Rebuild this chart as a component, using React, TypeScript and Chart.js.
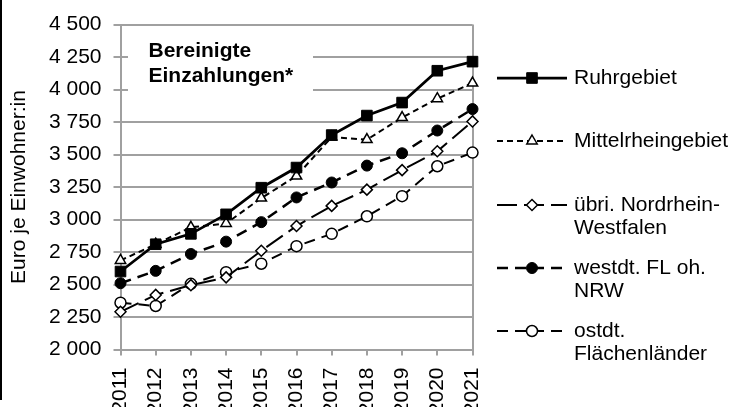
import React, { useEffect, useRef } from 'react';
import { Chart, registerables } from 'chart.js';

Chart.register(...registerables);

// ---------- data ----------
const years = ['2011', '2012', '2013', '2014', '2015', '2016', '2017', '2018', '2019', '2020', '2021'];
const ruhrgebiet = [2600, 2810, 2890, 3040, 3245, 3400, 3650, 3800, 3900, 4145, 4215];
const mittelrheingebiet = [2685, 2810, 2940, 2970, 3165, 3335, 3635, 3615, 3785, 3930, 4050];
const uebrigesNRW = [2290, 2420, 2495, 2555, 2760, 2950, 3105, 3230, 3380, 3525, 3755];
const westdtFL = [2510, 2605, 2735, 2830, 2980, 3170, 3285, 3415, 3510, 3685, 3850];
const ostdtFL = [2360, 2335, 2505, 2595, 2660, 2795, 2890, 3025, 3180, 3410, 3515];

const seriesLabels = ['Ruhrgebiet', 'Mittelrheingebiet', 'übri. Nordrhein-Westfalen', 'westdt. FL oh. NRW', 'ostdt. Flächenländer'];
const legendLines = [
  ['Ruhrgebiet'],
  ['Mittelrheingebiet'],
  ['übri. Nordrhein-', 'Westfalen'],
  ['westdt. FL oh.', 'NRW'],
  ['ostdt.', 'Flächenländer'],
];
const titleLines = ['Bereinigte', 'Einzahlungen*'];
const yAxisTitle = 'Euro je Einwohner:in';
const yMin = 2000;
const yMax = 4500;
const yStep = 250;

// ---------- styling ----------
const FONT = "'Liberation Sans', Arial, sans-serif";
const GRID = '#a0a0a0';
const W = 732;
const H = 420;

function drawMarker(ctx: CanvasRenderingContext2D, style: string, x: number, y: number, r: number, fill: string, stroke: string, bw: number) {
  ctx.save();
  ctx.setLineDash([]);
  ctx.beginPath();
  if (style === 'rect') {
    const s = r * Math.SQRT2;
    ctx.rect(x - s / 2, y - s / 2, s, s);
  } else if (style === 'triangle') {
    ctx.moveTo(x, y - r);
    ctx.lineTo(x + 0.866 * r, y + 0.5 * r);
    ctx.lineTo(x - 0.866 * r, y + 0.5 * r);
    ctx.closePath();
  } else if (style === 'rectRot') {
    ctx.moveTo(x, y - r);
    ctx.lineTo(x + r, y);
    ctx.lineTo(x, y + r);
    ctx.lineTo(x - r, y);
    ctx.closePath();
  } else {
    ctx.arc(x, y, r, 0, Math.PI * 2);
  }
  ctx.fillStyle = fill;
  ctx.fill();
  ctx.lineWidth = bw;
  ctx.strokeStyle = stroke;
  ctx.stroke();
  ctx.restore();
}

const overlayPlugin = {
  id: 'overlay',
  beforeDatasetsDraw(chart: any) {
    const ctx: CanvasRenderingContext2D = chart.ctx;
    const a = chart.chartArea;
    ctx.save();
    ctx.fillStyle = '#ffffff';
    ctx.fillRect(a.left + 7.5, 31, 185, 72);
    ctx.fillStyle = '#000';
    ctx.font = `bold 21px ${FONT}`;
    ctx.textBaseline = 'alphabetic';
    ctx.textAlign = 'left';
    ctx.fillText(titleLines[0], a.left + 28, 57);
    ctx.fillText(titleLines[1], a.left + 28, 82);
    ctx.restore();
  },
  afterDraw(chart: any) {
    const ctx: CanvasRenderingContext2D = chart.ctx;
    const x0 = 497;
    const x1 = 567;
    const xm = 532;
    const tx = 574;
    const ys = [78, 141, 205, 268, 331];
    chart.data.datasets.forEach((ds: any, i: number) => {
      const y = ys[i];
      ctx.save();
      ctx.strokeStyle = '#000';
      ctx.lineWidth = ds.borderWidth;
      ctx.setLineDash(ds.borderDash || []);
      ctx.beginPath();
      ctx.moveTo(x0, y);
      ctx.lineTo(x1, y);
      ctx.stroke();
      ctx.restore();
      drawMarker(ctx, ds.pointStyle, xm, y, ds.pointRadius, ds.pointBackgroundColor, '#000', ds.pointBorderWidth);
      ctx.save();
      ctx.fillStyle = '#000';
      ctx.font = `21px ${FONT}`;
      ctx.textBaseline = 'middle';
      ctx.textAlign = 'left';
      legendLines[i].forEach((line, k) => ctx.fillText(line, tx, y + k * 23.5));
      ctx.restore();
    });
  },
};

function makeDataset(label: string, data: number[], dash: number[], width: number, style: string, radius: number, fill: string, bw: number) {
  return {
    label,
    data,
    borderColor: '#000',
    borderWidth: width,
    borderDash: dash,
    pointStyle: style,
    pointRadius: radius,
    pointHoverRadius: radius,
    pointBackgroundColor: fill,
    pointBorderColor: '#000',
    pointBorderWidth: bw,
    tension: 0,
    fill: false,
  };
}

export default function App() {
  const canvasRef = useRef<HTMLCanvasElement | null>(null);

  useEffect(() => {
    if (!canvasRef.current) return;
    const chart = new Chart(canvasRef.current, {
      type: 'line',
      data: {
        labels: years,
        datasets: [
          makeDataset(seriesLabels[0], ruhrgebiet, [], 2.75, 'rect', 7.5, '#000', 1),
          makeDataset(seriesLabels[1], mittelrheingebiet, [6, 4], 2, 'triangle', 6, '#fff', 1.5),
          makeDataset(seriesLabels[2], uebrigesNRW, [20, 7], 2, 'rectRot', 5.5, '#fff', 1.5),
          makeDataset(seriesLabels[3], westdtFL, [11, 7], 2.5, 'circle', 5.5, '#000', 1),
          makeDataset(seriesLabels[4], ostdtFL, [11, 7], 2, 'circle', 5.5, '#fff', 1.5),
        ],
      },
      options: {
        responsive: false,
        animation: false,
        devicePixelRatio: 1,
        layout: { padding: { top: 22, right: 259.5, bottom: 0, left: 0 } },
        plugins: {
          legend: { display: false },
          tooltip: { enabled: false },
          title: { display: false },
        },
        scales: {
          x: {
            offset: false,
            grid: {
              color: (c: any) => (c.index === years.length - 1 ? GRID : 'rgba(0,0,0,0)'),
              tickColor: GRID,
              lineWidth: 2,
              tickLength: 6,
            },
            border: { display: true, color: GRID, width: 2 },
            ticks: {
              autoSkip: false,
              minRotation: 90,
              maxRotation: 90,
              padding: 12,
              color: '#000',
              font: { family: FONT, size: 21 },
            },
            afterFit: (scale: any) => {
              scale.height = H - 349.5;
            },
          },
          y: {
            min: yMin,
            max: yMax,
            grid: { color: GRID, lineWidth: 2, tickLength: 7, tickColor: GRID },
            border: { display: true, color: GRID, width: 2 },
            ticks: {
              stepSize: yStep,
              padding: 12,
              color: '#000',
              font: { family: FONT, size: 21 },
              callback: (v: any) => {
                const n = Number(v);
                const s = String(Math.round(n));
                return s.length > 3 ? s.slice(0, s.length - 3) + ' ' + s.slice(s.length - 3) : s;
              },
            },
            title: {
              display: true,
              text: yAxisTitle,
              color: '#000',
              font: { family: FONT, size: 21 },
              padding: { top: 7, bottom: 0 },
            },
            afterFit: (scale: any) => {
              scale.width = 120.5;
            },
          },
        },
      },
      plugins: [overlayPlugin],
    } as any);
    return () => chart.destroy();
  }, []);

  return (
    <div style={{ position: 'fixed', left: 0, top: 0, width: W, height: 407, overflow: 'hidden', background: '#fff' }}>
      <canvas ref={canvasRef} width={W} height={H} style={{ display: 'block', width: W, height: H }} />
      <div style={{ position: 'absolute', left: 0, top: 0, width: 2, height: 400, background: '#000' }} />
    </div>
  );
}
